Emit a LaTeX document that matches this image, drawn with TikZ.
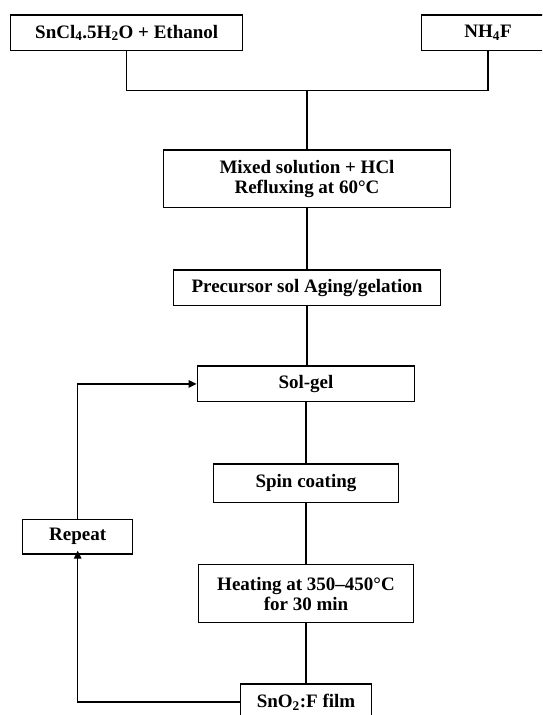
\documentclass[tikz,border=0pt]{standalone}
\usepackage{fontspec}
\setmainfont{Liberation Serif}
\usetikzlibrary{arrows.meta}
\tikzset{
  box/.style={draw=black, line width=1.3pt, fill=white, inner sep=0pt, align=center,
    font=\fontsize{19}{22}\selectfont\bfseries},
  link/.style={draw=black, line width=1.3pt},
  arr/.style={link, -{Triangle[length=8pt,width=7.5pt]}}
}
\begin{document}
\begin{tikzpicture}[x=1pt,y=-1pt]
\useasboundingbox (0,0) rectangle (542,715);
\clip (0,0) rectangle (542,715);
\fill[white] (0,0) rectangle (542,715);
% nodes
\node[box, minimum width=232pt, minimum height=35.7pt] (A) at (126.7,32.9) {SnCl\textsubscript{4}.5H\textsubscript{2}O + Ethanol};
\node[box, minimum width=132.6pt, minimum height=35.7pt] (B) at (488,32.9) {NH\textsubscript{4}F};
\coordinate (J) at (307,90.7);
\node[box, minimum width=287pt, minimum height=57.7pt] (M) at (307,178.9) {Mixed solution + HCl\\[-2pt]Refluxing at 60°C};
\node[box, minimum width=266.7pt, minimum height=35.7pt] (P) at (307,287.9) {Precursor sol Aging/gelation};
\node[box, minimum width=217.5pt, minimum height=35.7pt] (G) at (306,383.9) {Sol-gel};
\node[box, minimum width=185pt, minimum height=38.7pt] (C) at (306,483.4) {Spin coating};
\node[box, minimum width=214.4pt, minimum height=58.4pt] (H) at (306,593.5) {Heating at 350–450°C\\[-2pt]for 30 min};
\node[box, minimum width=130.7pt, minimum height=36pt] (F) at (306,702) {SnO\textsubscript{2}:F film};
\node[box, minimum width=110pt, minimum height=34.7pt] (R) at (77.7,536.7) {Repeat};
% connectors
\draw[link] (A.south) |- (J) -| (B.south);
\draw[link] (J) -- (J |- M.north);
\draw[link] (M.south) -- (M.south |- P.north);
\draw[link] (P.south) -- (P.south |- G.north);
\draw[link] (G.south) -- (C.north);
\draw[link] (C.south) -- (H.north);
\draw[link] (H.south) -- (F.north);
\draw[arr] (F.west) -| ([yshift=4pt]R.south);
\draw[arr] (R.north) |- (G.west);
\end{tikzpicture}
\end{document}
